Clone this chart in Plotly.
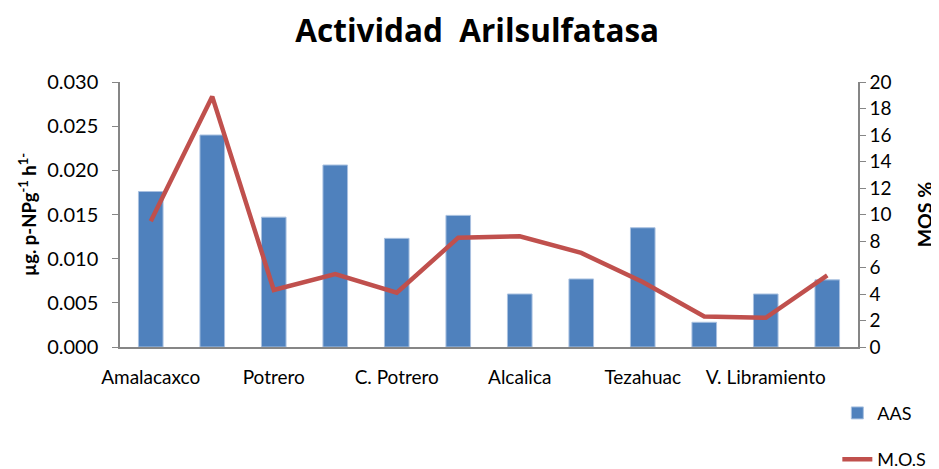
import plotly.graph_objects as go

# datos
sitios = ['Amalacaxco', 'Potrero', 'C. Potrero', 'Alcalica', 'Tezahuac', 'V. Libramiento']
muestras = list(range(12))
aas = [0.0176, 0.0240, 0.0147, 0.0206, 0.0123, 0.0149,
       0.0060, 0.0077, 0.0135, 0.0028, 0.0060, 0.0076]
mos = [9.5, 18.9, 4.3, 5.5, 4.1, 8.25, 8.35, 7.1, 4.9, 2.3, 2.2, 5.4]

fuente = 'Lato'
gris = '#868686'

fig = go.Figure()

fig.add_trace(go.Bar(
    name='AAS', x=muestras, y=aas,
    marker=dict(color='#4F81BD', line=dict(color='#A9C1E0', width=1)),
    legendgroup='a', yaxis='y'
))

fig.add_trace(go.Scatter(
    name='M.O.S', x=muestras, y=mos, mode='lines',
    line=dict(color='#C0504D', width=4.5),
    legendgroup='b', yaxis='y2'
))

# la página tiene 8px de margen, por eso 931x461
fig.update_layout(
    width=931, height=461,
    margin=dict(l=112, r=81, t=74, b=122, autoexpand=False),
    paper_bgcolor='white', plot_bgcolor='white',
    font=dict(family=fuente, size=19, color='black'),
    title=dict(text='<b>Actividad  Arilsulfatasa</b>', x=0.504, xanchor='center',
               y=0.95, yanchor='middle', font=dict(family='Open Sans', size=31.5)),
    bargap=0.6,
    showlegend=True,
    legend=dict(x=0.972, y=-0.18, xanchor='left', yanchor='top',
                tracegroupgap=20, font=dict(size=18), bgcolor='rgba(0,0,0,0)'),
    xaxis=dict(
        tickmode='array', tickvals=muestras[::2], ticktext=sitios,
        range=[-0.5, 11.5], showline=True, linecolor=gris, linewidth=1.5,
        ticks='', ticklabelstandoff=12, tickfont=dict(size=19),
        showgrid=False, zeroline=False
    ),
    yaxis=dict(
        title=dict(text='<b>µg. p-NPg<sup>-1</sup> h<sup>1-</sup></b>', font=dict(size=18.5), standoff=6),
        range=[0, 0.030], dtick=0.005, tickformat='.3f', tickfont=dict(size=20),
        ticklabelstandoff=10,
        showline=True, linecolor=gris, linewidth=1.5,
        ticks='outside', tickcolor=gris, ticklen=6,
        showgrid=False, zeroline=False
    ),
    yaxis2=dict(
        title=dict(text='<b>MOS %</b>', font=dict(size=19.5), standoff=28),
        overlaying='y', side='right', range=[0, 20], dtick=2, tickfont=dict(size=19),
        showline=True, linecolor=gris, linewidth=1.5,
        ticks='outside', tickcolor=gris, ticklen=6,
        showgrid=False, zeroline=False
    )
)

fig.write_html("out.html")
